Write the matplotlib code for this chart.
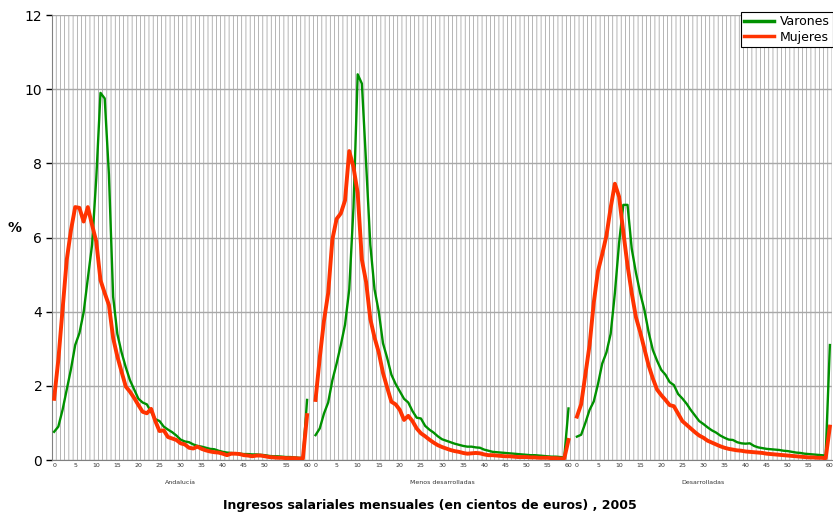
import numpy as np
import matplotlib
matplotlib.use('Agg')
import matplotlib.pyplot as plt

# Percent of workers per monthly wage bracket (hundreds of euros), 0..60 (60 = 6000+)
groups = ['Andalucía', 'Menos desarrolladas', 'Desarrolladas']
brackets = np.arange(61)

andalucia_varones = [
    0.76, 0.9, 1.35, 1.9, 2.45, 3.1, 3.42, 3.98, 4.9, 5.8,
    7.6, 9.9, 9.75, 7.7, 4.4, 3.4, 2.9, 2.5, 2.15, 1.9,
    1.65, 1.55, 1.5, 1.3, 1.1, 1.05, 0.9, 0.82, 0.75, 0.66,
    0.55, 0.5, 0.48, 0.42, 0.38, 0.36, 0.33, 0.3, 0.29, 0.25,
    0.22, 0.2, 0.19, 0.18, 0.17, 0.16, 0.16, 0.15, 0.15, 0.14,
    0.13, 0.11, 0.1, 0.1, 0.09, 0.08, 0.08, 0.07, 0.06, 0.05,
    1.62]
andalucia_mujeres = [
    1.65, 2.7, 4.05, 5.4, 6.2, 6.82, 6.8, 6.43, 6.82, 6.34,
    5.89, 4.85, 4.5, 4.18, 3.29, 2.79, 2.38, 1.98, 1.84, 1.67,
    1.48, 1.3, 1.26, 1.38, 1.05, 0.78, 0.8, 0.62, 0.58, 0.54,
    0.45, 0.42, 0.33, 0.31, 0.36, 0.3, 0.26, 0.23, 0.21, 0.2,
    0.17, 0.13, 0.17, 0.17, 0.16, 0.13, 0.12, 0.1, 0.12, 0.12,
    0.1, 0.08, 0.07, 0.06, 0.06, 0.05, 0.05, 0.05, 0.04, 0.04,
    1.21]
menos_varones = [
    0.67, 0.85, 1.25, 1.55, 2.15, 2.6, 3.1, 3.65, 4.6, 6.8,
    10.4, 10.15, 8.0, 5.8, 4.6, 4.0, 3.15, 2.75, 2.3, 2.05,
    1.85, 1.65, 1.55, 1.32, 1.14, 1.12, 0.92, 0.82, 0.74, 0.64,
    0.56, 0.52, 0.48, 0.44, 0.41, 0.38, 0.36, 0.36, 0.34, 0.33,
    0.28, 0.25, 0.22, 0.21, 0.2, 0.19, 0.18, 0.17, 0.16, 0.15,
    0.14, 0.13, 0.13, 0.12, 0.11, 0.1, 0.09, 0.09, 0.08, 0.07,
    1.39]
menos_mujeres = [
    1.62, 2.75, 3.75, 4.5, 5.95, 6.5, 6.65, 7.0, 8.33, 7.9,
    7.2, 5.4, 4.8, 3.8, 3.3, 2.9, 2.35, 1.95, 1.57, 1.5,
    1.35, 1.08, 1.19, 1.05, 0.85, 0.72, 0.64, 0.55, 0.47, 0.4,
    0.35, 0.31, 0.27, 0.24, 0.22, 0.19, 0.17, 0.18, 0.19, 0.18,
    0.15, 0.13, 0.13, 0.12, 0.11, 0.1, 0.1, 0.09, 0.08, 0.08,
    0.08, 0.07, 0.07, 0.06, 0.06, 0.06, 0.05, 0.05, 0.04, 0.04,
    0.54]
desarr_varones = [
    0.63, 0.68, 1.0, 1.35, 1.58, 2.05, 2.6, 2.9, 3.4, 4.5,
    5.85, 6.88, 6.88, 5.7, 5.05, 4.5, 4.05, 3.45, 2.97, 2.68,
    2.43, 2.3, 2.1, 2.02, 1.78, 1.66, 1.52, 1.35, 1.2, 1.05,
    0.97, 0.88, 0.8, 0.74, 0.66, 0.6, 0.55, 0.54, 0.48, 0.45,
    0.44, 0.45, 0.38, 0.34, 0.32, 0.3, 0.29, 0.28, 0.27, 0.25,
    0.24, 0.22, 0.2, 0.19, 0.17, 0.16, 0.15, 0.14, 0.13, 0.12,
    3.1]
desarr_mujeres = [
    1.17, 1.5, 2.3, 3.1, 4.25, 5.1, 5.55, 6.05, 6.8, 7.45,
    7.1, 6.15, 5.25, 4.5, 3.85, 3.45, 3.0, 2.55, 2.2, 1.9,
    1.75, 1.62, 1.48, 1.45, 1.25, 1.05, 0.95, 0.85, 0.75, 0.66,
    0.6, 0.52, 0.47, 0.42, 0.37, 0.33, 0.3, 0.28, 0.26, 0.25,
    0.23, 0.22, 0.21, 0.2, 0.19, 0.17, 0.16, 0.15, 0.14, 0.13,
    0.12, 0.11, 0.1, 0.09, 0.08, 0.07, 0.07, 0.06, 0.06, 0.05,
    0.9]

varones = [andalucia_varones, menos_varones, desarr_varones]
mujeres = [andalucia_mujeres, menos_mujeres, desarr_mujeres]

# each region block is 61 brackets plus one empty slot
step = 62
n_slots = step * 3 - 1

fig = plt.figure(figsize=(8.33, 5.12), dpi=100)
ax = fig.add_axes([52 / 833, 52 / 512, 780 / 833, 445 / 512])

# vertical grid at every bracket boundary (thin, unsnapped -> uneven greys)
for k in range(n_slots + 1):
    ax.axvline(k - 0.5, color='#8c8c8c', lw=0.45, snap=False, zorder=0)
ax.set_yticks(np.arange(0, 13, 2))
ax.yaxis.grid(True, color='#a8a8a8', lw=1.0, zorder=0)

for g in range(3):
    x = g * step + brackets
    ax.plot(x, varones[g], color='#009100', lw=1.7, zorder=3,
            label='Varones' if g == 0 else None)
    ax.plot(x, mujeres[g], color='#ff3300', lw=2.8, zorder=4,
            label='Mujeres' if g == 0 else None)

ax.set_xlim(-0.5, n_slots - 0.5)
ax.set_ylim(0, 12)

# x ticks: 0..60 by 5 in each region block
tick_pos = []
tick_lab = []
for g in range(3):
    for v in range(0, 61, 5):
        tick_pos.append(g * step + v)
        tick_lab.append(str(v))
ax.set_xticks(tick_pos)
ax.set_xticklabels(tick_lab, fontsize=4.5, color='#333333')
ax.tick_params(axis='x', length=0, pad=2)
ax.tick_params(axis='y', labelsize=10, length=4, width=1, pad=3)

for s in ['top', 'right']:
    ax.spines[s].set_visible(False)
ax.spines['left'].set_color('#808080')
ax.spines['bottom'].set_color('#808080')

for g, name in enumerate(groups):
    ax.text(g * step + 30, -0.62, name, fontsize=4.5, color='#333333',
            ha='center', va='center')

fig.text(15 / 833, 1 - 228 / 512, '%', fontsize=10, fontweight='bold',
         ha='center', va='center')
fig.text(430 / 833, 1 - 505 / 512,
         'Ingresos salariales mensuales (en cientos de euros) , 2005',
         fontsize=9, fontweight='bold', ha='center', va='center')

leg = ax.legend(loc='upper right', bbox_to_anchor=(1.0, 1 - 12 / 512),
                bbox_transform=fig.transFigure, fontsize=9, frameon=True,
                fancybox=False, edgecolor='black', framealpha=1,
                borderpad=0.25, handlelength=2.4, labelspacing=0.2,
                handletextpad=0.5, borderaxespad=0)
leg.get_frame().set_linewidth(0.8)
for line in leg.get_lines():
    line.set_linewidth(2.5)

fig.savefig('out.png', dpi=100)
